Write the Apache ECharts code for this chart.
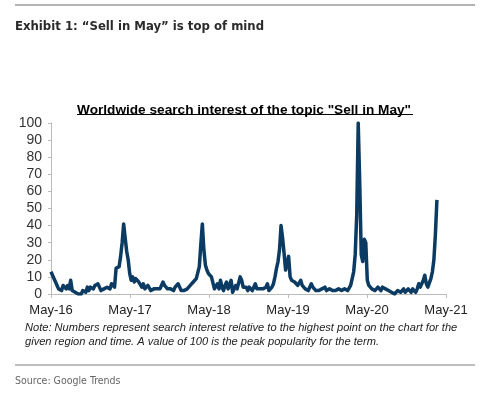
<!DOCTYPE html>
<html>
<head>
<meta charset="utf-8">
<script src="https://cdn.jsdelivr.net/npm/echarts@6/dist/echarts.min.js"></script>
<style>
  html, body { margin: 0; padding: 0; background: #fff; }
  #chart { width: 480px; height: 398px; }
</style>
</head>
<body>
<div id="chart"></div>
<script>
// weekly search interest, from May-16 onwards (week 0 = start of May 2016)
const interest2016 = [13, 11, 10, 7, 5, 3, 4, 2, 5, 4, 3, 5, 3, 8, 2, 3, 1, 2, 0, 1, 0, 2, 3, 1, 4, 2, 4, 5, 3, 5, 4, 6, 4, 2, 3, 3, 2, 4, 5, 3, 6, 7, 4, 15, 14, 16, 22, 30, 41, 33, 25, 20]
const interest2017 = [12, 8, 10, 7, 9, 8, 7, 6, 4, 6, 3, 2, 5, 4, 2, 3, 3, 2, 3, 2, 3, 4, 7, 5, 4, 3, 4, 3, 3, 2, 4, 5, 6, 4, 2, 3, 2, 2, 3, 3, 5, 4, 7, 8, 9, 10, 16, 29, 41, 26, 17, 14]
const interest2018 = [12, 11, 10, 11, 3, 2, 6, 3, 8, 4, 2, 5, 7, 3, 5, 8, 1, 3, 5, 3, 4, 10, 8, 4, 3, 4, 2, 4, 3, 2, 4, 6, 3, 2, 3, 2, 3, 2, 4, 6, 2, 3, 4, 6, 10, 15, 19, 26, 40, 33, 24, 14]
const interest2019 = [15, 22, 10, 8, 8, 7, 6, 5, 6, 8, 5, 4, 3, 2, 2, 3, 6, 4, 3, 2, 1, 2, 2, 3, 3, 4, 2, 2, 3, 2, 2, 3, 2, 2, 3, 4, 2, 1, 3, 3, 2, 3, 5, 9, 13, 23, 46, 100, 65, 23, 19, 32]
const interest2020 = [30, 8, 5, 4, 3, 4, 2, 2, 4, 3, 2, 4, 3, 3, 2, 2, 1, 1, 1, 0, 1, 2, 3, 1, 2, 3, 1, 2, 3, 2, 1, 3, 2, 1, 3, 6, 4, 3, 8, 11, 6, 4, 5, 9, 13, 20, 35, 55]
const interest = [].concat(interest2016, interest2017, interest2018, interest2019, interest2020)

const xLabels = ['May-16', 'May-17', 'May-18', 'May-19', 'May-20', 'May-21']
const yTicks = [0, 10, 20, 30, 40, 50, 60, 70, 80, 90, 100]
const weeksPerYear = 52.2

const chart = echarts.init(document.getElementById('chart'))

chart.setOption({
  animation: false,
  title: [
    {
      text: 'Exhibit 1: \u201cSell in May\u201d is top of mind',
      left: 10,
      top: 15,
      textStyle: {
        fontFamily: '"Liberation Sans Narrow", "DejaVu Sans Condensed", Roboto, sans-serif',
        fontSize: 13,
        fontWeight: 'bold',
        color: '#2a2a2a'
      }
    },
    {
      text: 'Worldwide search interest of the topic "Sell in May"',
      left: 72,
      top: 98,
      textStyle: {
        fontFamily: '"Liberation Sans", Arial, sans-serif',
        fontSize: 13.65,
        fontWeight: 'bold',
        color: '#000'
      }
    },
    {
      text: 'Note: Numbers represent search interest relative to the highest point on the chart for the\ngiven region and time. A value of 100 is the peak popularity for the term.',
      left: 20,
      top: 316,
      textStyle: {
        fontFamily: '"Liberation Sans", Arial, sans-serif',
        fontSize: 11.1,
        fontStyle: 'italic',
        fontWeight: 'normal',
        color: '#222',
        lineHeight: 14
      }
    },
    {
      text: 'Source: Google Trends',
      left: 10,
      top: 371,
      textStyle: {
        fontFamily: '"Liberation Sans Narrow", "DejaVu Sans Condensed", Roboto, sans-serif',
        fontSize: 10.5,
        fontWeight: 'normal',
        color: '#666'
      }
    }
  ],
  graphic: [
    { type: 'line', shape: { x1: 15, y1: 5, x2: 475, y2: 5 }, style: { stroke: '#999', lineWidth: 1.5 } },
    { type: 'line', shape: { x1: 77, y1: 114.5, x2: 413, y2: 114.5 }, style: { stroke: '#000', lineWidth: 1.2 } },
    { type: 'line', shape: { x1: 15, y1: 365, x2: 475, y2: 365 }, style: { stroke: '#aaa', lineWidth: 1.5 } }
  ],
  grid: {
    left: 51,
    right: 34,
    top: 123,
    bottom: 104
  },
  xAxis: {
    type: 'value',
    min: 0,
    max: weeksPerYear * 5,
    interval: weeksPerYear,
    axisLine: { show: true, lineStyle: { color: '#bbb', width: 1 } },
    axisTick: { show: true, length: 4, lineStyle: { color: '#bbb' } },
    splitLine: { show: false },
    axisLabel: {
      showMinLabel: true,
      showMaxLabel: true,
      margin: 10,
      color: '#222',
      fontSize: 13,
      fontFamily: '"Liberation Sans", Arial, sans-serif',
      formatter: function (v) {
        return xLabels[Math.round(v / weeksPerYear)]
      }
    }
  },
  yAxis: {
    type: 'value',
    min: yTicks[0],
    max: yTicks[yTicks.length - 1],
    interval: 10,
    axisLine: { show: true, lineStyle: { color: '#bbb', width: 1 } },
    axisTick: { show: true, length: 3, lineStyle: { color: '#bbb' } },
    splitLine: { show: false },
    axisLabel: {
      margin: 9,
      color: '#333',
      fontSize: 14,
      fontFamily: '"Liberation Sans", Arial, sans-serif'
    }
  },
  series: [{
    name: 'Sell in May',
    type: 'line',
    data: interest.map((v, i) => [i, v]),
    symbol: 'none',
    smooth: false,
    lineStyle: {
      color: '#0b3a63',
      width: 3.5,
      join: 'round'
    }
  }]
})
</script>
</body>
</html>
